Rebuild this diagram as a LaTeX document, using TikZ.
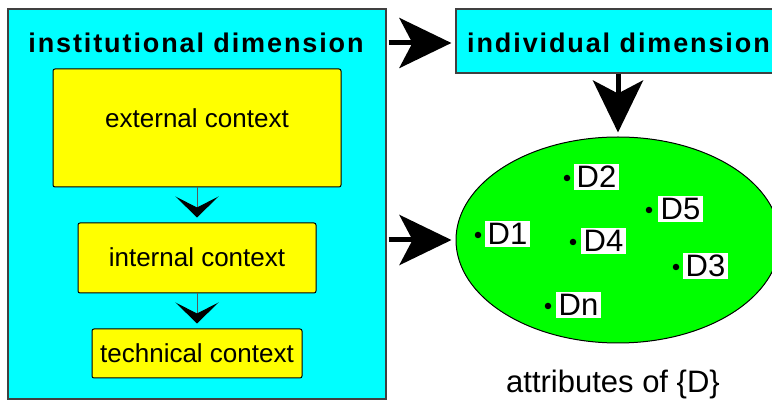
\documentclass[tikz,border=0pt]{standalone}
\usepackage{fontspec}
\setmainfont{Liberation Sans}
\newfontfamily\spacedfont[LetterSpace=7]{Liberation Sans}
\usetikzlibrary{arrows.meta,shapes.geometric}
\definecolor{aqua}{RGB}{0,255,255}
\definecolor{lemon}{RGB}{255,255,0}
\definecolor{lime}{RGB}{0,255,0}
\begin{document}
\begin{tikzpicture}[x=1pt,y=-1pt,
  panel/.style={draw=black!75, line width=1.2pt, fill=aqua, inner sep=0pt},
  ctxbox/.style={draw=black, line width=1pt, fill=lemon, rounded corners=2pt, inner sep=0pt},
  ctxtext/.style={anchor=base, inner sep=0pt, font=\fontsize{26}{30}\selectfont},
  titletext/.style={inner sep=0pt, font=\spacedfont\bfseries\fontsize{27}{32}\selectfont},
  bigarrow/.style={line width=5pt, -{Stealth[length=52pt, width=50pt, inset=13pt]}},
  smallarrow/.style={draw=black!65, line width=1pt, -{Stealth[length=21pt, width=43pt, inset=11pt, color=black]}},
  attr/.style={anchor=west, fill=white, inner sep=2.5pt, font=\fontsize{31}{35}\selectfont},
  pt/.style={circle, fill=black, inner sep=0pt, minimum size=6.5pt},
]
\useasboundingbox (0,0) rectangle (772,403);
\clip (0,0) rectangle (772,403);

% institutional dimension panel with its three contexts
\node[panel, minimum width=378pt, minimum height=390pt] (inst) at (197,204) {};
\node[titletext, anchor=base] (insttitle) at (196,53) {institutional dimension};

\node[ctxbox, minimum width=288pt, minimum height=118pt] (ext) at (197,128) {};
\node[ctxtext] (exttext) at (197,128) {external context};
\node[ctxbox, minimum width=238pt, minimum height=70pt] (int) at (197,258) {};
\node[ctxtext] (inttext) at (197,267) {internal context};
\node[ctxbox, minimum width=210pt, minimum height=49pt] (tech) at (197,353.5) {};
\node[ctxtext] (techtext) at (197,363) {technical context};

\draw[smallarrow, shorten >=5pt] (ext.south) -- (int.north);
\draw[smallarrow, shorten >=5pt] (int.south) -- (tech.north);

% individual dimension
\node[panel, minimum width=344pt, minimum height=64pt] (indiv) at (628,41) {};
\node[titletext, anchor=base west] (indivtitle) at (467,53) {individual dimension};

% set of attributes
\node[ellipse, draw=black, line width=1pt, fill=lime, minimum width=324pt, minimum height=206pt, inner sep=0pt] (ell) at (618,240) {};

\node[pt] (p2) at (567,178) {};
\node[attr] (d2) at (574,177) {D2};
\node[pt] (p5) at (649,210) {};
\node[attr] (d5) at (658,209) {D5};
\node[pt] (p1) at (478,235) {};
\node[attr] (d1) at (485,234) {D1};
\node[pt] (p4) at (573,242) {};
\node[attr] (d4) at (581,241) {D4};
\node[pt] (p3) at (676,267) {};
\node[attr] (d3) at (683,266) {D3};
\node[pt] (pn) at (548,306) {};
\node[attr] (dn) at (556,305) {Dn};

\node[anchor=base, inner sep=0pt, font=\fontsize{31}{35}\selectfont] (caption) at (613,393) {attributes of \{D\}};

% connectors between the dimensions
\coordinate (a1) at ([xshift=2pt]inst.east |- 0,43);
\coordinate (a2) at ([xshift=2pt]inst.east |- ell.west);
\draw[bigarrow, shorten >=4pt] (a1) -- (indiv.west |- a1);
\draw[bigarrow, shorten >=4pt] (a2) -- (ell.west);
\draw[bigarrow, shorten >=4pt] (indiv.south -| ell.north) -- (ell.north);
\end{tikzpicture}
\end{document}
